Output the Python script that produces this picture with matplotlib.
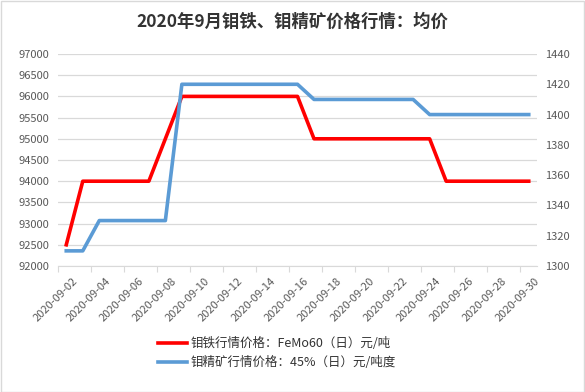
import matplotlib
matplotlib.use("Agg")
import matplotlib.pyplot as plt
from matplotlib.patches import Rectangle

plt.rcParams['font.family'] = ['Noto Sans CJK SC', 'DejaVu Sans']

dates = [f"2020-09-{d:02d}" for d in range(2, 31)]
femo = [92500, 94000, 94000, 94000, 94000, 94000, 95000, 96000, 96000, 96000,
        96000, 96000, 96000, 96000, 96000, 95000, 95000, 95000, 95000, 95000,
        95000, 95000, 95000, 94000, 94000, 94000, 94000, 94000, 94000]
conc = [1310, 1310, 1330, 1330, 1330, 1330, 1330, 1420, 1420, 1420,
        1420, 1420, 1420, 1420, 1420, 1410, 1410, 1410, 1410, 1410,
        1410, 1410, 1400, 1400, 1400, 1400, 1400, 1400, 1400]
left_ticks = list(range(92000, 97001, 500))
right_ticks = list(range(1300, 1441, 20))
title = "2020年9月钼铁、钼精矿价格行情：均价"
label_femo = "钼铁行情价格：FeMo60（日）元/吨"
label_conc = "钼精矿行情价格：45%（日）元/吨度"

W, H = 585, 392
fig = plt.figure(figsize=(W / 100, H / 100), dpi=100)
fig.patches.append(Rectangle((0.5 / W, 0.5 / H), 1 - 1.5 / W, 1 - 1.5 / H,
                             transform=fig.transFigure, fill=False,
                             edgecolor='#d9d9d9', linewidth=1))

left, right, top, bottom = 58, 537, 54, 266
ax = fig.add_axes([left / W, 1 - bottom / H, (right - left) / W, (bottom - top) / H])
ax2 = ax.twinx()

x = list(range(len(dates)))
ax.plot(x, femo, color='#ff0000', linewidth=2.6, solid_joinstyle='round', zorder=3)
ax2.plot(x, conc, color='#5b9bd5', linewidth=2.6, solid_joinstyle='round', zorder=3)

ax.set_xlim(-0.5, len(dates) - 0.5)
ax.set_ylim(92000, 97000)
ax2.set_ylim(1300, 1440)
ax.set_yticks(left_ticks)
ax2.set_yticks(right_ticks)
ax.yaxis.grid(True, color='#d9d9d9', linewidth=0.9)
ax.set_axisbelow(True)

for a in (ax, ax2):
    for s in a.spines.values():
        s.set_visible(False)
    a.tick_params(axis='y', length=0, labelsize=8, labelcolor='#595959', pad=6)
ax.spines['bottom'].set_visible(True)
ax.spines['bottom'].set_color('#d9d9d9')

ax.set_xticks([i - 0.5 for i in range(0, len(dates), 2)])
ax.set_xticklabels([])
ax.tick_params(axis='x', length=4, color='#d9d9d9', direction='out')
for i in range(0, len(dates), 2):
    ax.text(i + 0.35, -0.045, dates[i], transform=ax.get_xaxis_transform(),
            rotation=45, ha='right', va='top', rotation_mode='anchor',
            fontsize=8, color='#595959')

fig.text(0.5, 1 - 22 / H, title, ha='center', va='center', fontsize=12.5,
         fontweight='bold', color='#333333')

# legend
for yy, col, lab in [(343, '#ff0000', label_femo), (362, '#5b9bd5', label_conc)]:
    fig.add_artist(plt.Line2D([158 / W, 187 / W], [1 - yy / H, 1 - yy / H],
                              color=col, linewidth=2.6, transform=fig.transFigure))
    fig.text(191 / W, 1 - yy / H, lab, ha='left', va='center', fontsize=9,
             color='#333333', fontweight='medium')

fig.savefig('out.png', dpi=100)
